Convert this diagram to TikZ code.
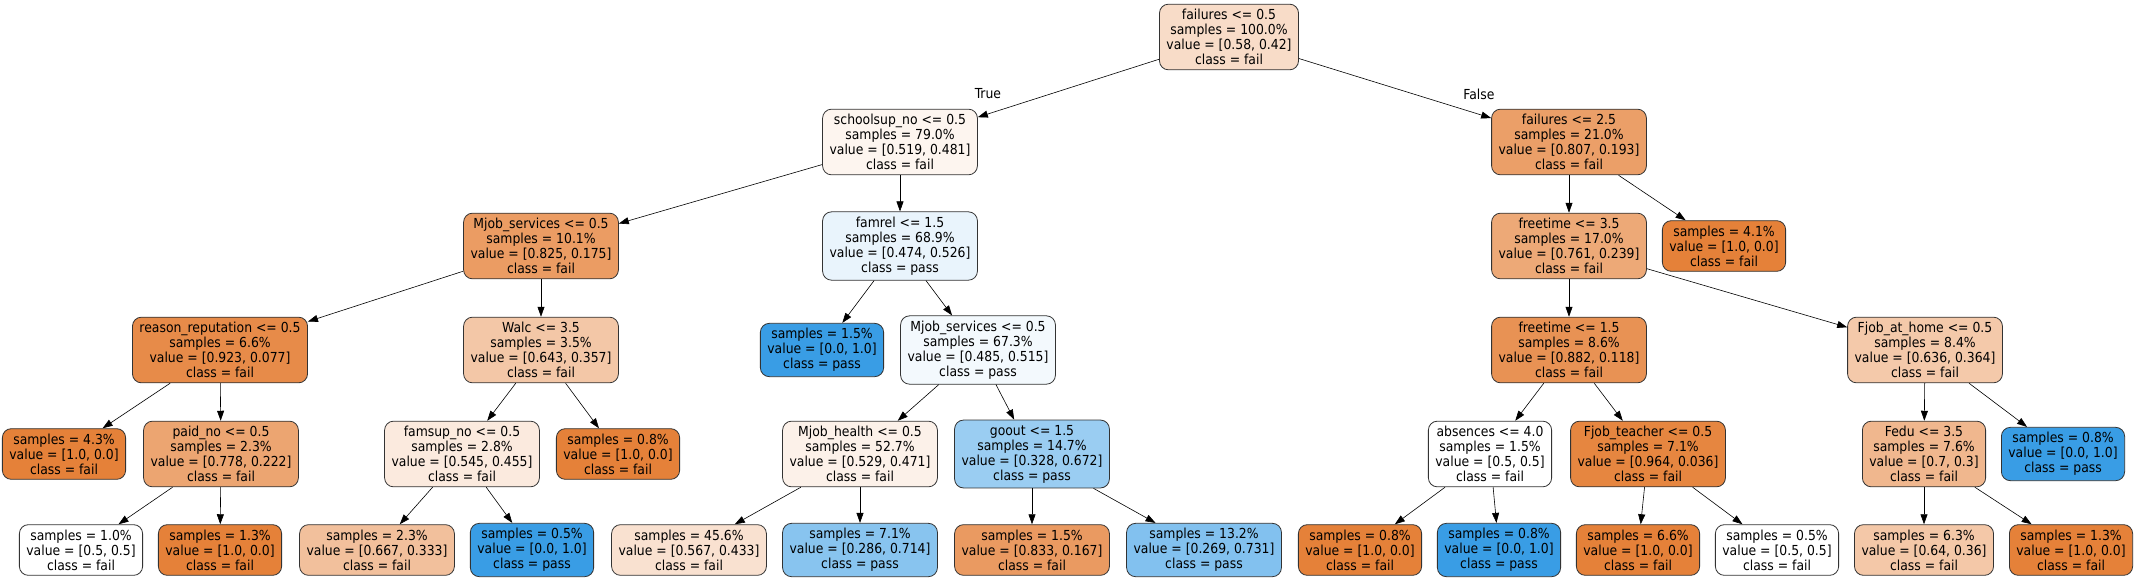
\documentclass[tikz,border=0pt]{standalone}
\usepackage{fontspec}
\setmainfont{DejaVu Sans Condensed}
\usetikzlibrary{arrows.meta}

\definecolor{failc}{RGB}{229,129,57}
\definecolor{passc}{RGB}{57,157,229}

\begin{document}
\begin{tikzpicture}[x=1pt,y=-1pt,
    tree/.style={draw=black!80,line width=0.8pt,rounded corners=9pt,align=center,
      font=\fontsize{13.8}{15}\selectfont,inner xsep=7pt,inner ysep=5pt},
    fail/.style={tree,fill=failc!#1!white},
    pass/.style={tree,fill=passc!#1!white},
    lbl/.style={font=\fontsize{13.8}{15}\selectfont}]
  \useasboundingbox (0,0) rectangle (2136,581);

  % split nodes
  \node[fail=27.6] (root)    at (1229,37)  {failures <= 0.5\\samples = 100.0\%\\value = [0.58, 0.42]\\class = fail};
  \node[fail=7.9]  (schsup)  at (900,142)  {schoolsup\_no <= 0.5\\samples = 79.0\%\\value = [0.519, 0.481]\\class = fail};
  \node[fail=76.1] (failtwo) at (1569,142) {failures <= 2.5\\samples = 21.0\%\\value = [0.807, 0.193]\\class = fail};
  \node[fail=78.8] (mjsA)    at (541,246)  {Mjob\_services <= 0.5\\samples = 10.1\%\\value = [0.825, 0.175]\\class = fail};
  \node[pass=11]   (famrel)  at (900,246)  {famrel <= 1.5\\samples = 68.9\%\\value = [0.474, 0.526]\\class = pass};
  \node[fail=68.6] (freeA)   at (1569,246) {freetime <= 3.5\\samples = 17.0\%\\value = [0.761, 0.239]\\class = fail};
  \node[fail=91.7] (reason)  at (220,350)  {reason\_reputation <= 0.5\\samples = 6.6\%\\value = [0.923, 0.077]\\class = fail};
  \node[fail=44.5] (walc)    at (541,350)  {Walc <= 3.5\\samples = 3.5\%\\value = [0.643, 0.357]\\class = fail};
  \node[pass=6.2]  (mjsB)    at (978,350)  {Mjob\_services <= 0.5\\samples = 67.3\%\\value = [0.485, 0.515]\\class = pass};
  \node[fail=86.6] (freeB)   at (1569,350) {freetime <= 1.5\\samples = 8.6\%\\value = [0.882, 0.118]\\class = fail};
  \node[fail=42.8] (fjhome)  at (1925,350) {Fjob\_at\_home <= 0.5\\samples = 8.4\%\\value = [0.636, 0.364]\\class = fail};
  \node[fail=71.5] (paid)    at (221,454)  {paid\_no <= 0.5\\samples = 2.3\%\\value = [0.778, 0.222]\\class = fail};
  \node[fail=16.5] (famsup)  at (462,454)  {famsup\_no <= 0.5\\samples = 2.8\%\\value = [0.545, 0.455]\\class = fail};
  \node[fail=11]   (mjhealth) at (860,454) {Mjob\_health <= 0.5\\samples = 52.7\%\\value = [0.529, 0.471]\\class = fail};
  \node[pass=51.2] (goout)   at (1032,454) {goout <= 1.5\\samples = 14.7\%\\value = [0.328, 0.672]\\class = pass};
  \node[fail=0]    (absenc)  at (1490,454) {absences <= 4.0\\samples = 1.5\%\\value = [0.5, 0.5]\\class = fail};
  \node[fail=96.3] (fjteach) at (1648,454) {Fjob\_teacher <= 0.5\\samples = 7.1\%\\value = [0.964, 0.036]\\class = fail};
  \node[fail=57.1] (fedu)    at (1924,454) {Fedu <= 3.5\\samples = 7.6\%\\value = [0.7, 0.3]\\class = fail};

  % leaves
  \node[fail=100]  (lfA) at (1724,246) {samples = 4.1\%\\value = [1.0, 0.0]\\class = fail};
  \node[pass=100]  (lfB) at (822,350)  {samples = 1.5\%\\value = [0.0, 1.0]\\class = pass};
  \node[fail=100]  (lfC) at (64,454)   {samples = 4.3\%\\value = [1.0, 0.0]\\class = fail};
  \node[fail=100]  (lfD) at (618,454)  {samples = 0.8\%\\value = [1.0, 0.0]\\class = fail};
  \node[pass=100]  (lfE) at (2063,454) {samples = 0.8\%\\value = [0.0, 1.0]\\class = pass};
  \node[fail=0]    (lfF) at (81,550)   {samples = 1.0\%\\value = [0.5, 0.5]\\class = fail};
  \node[fail=100]  (lfG) at (220,550)  {samples = 1.3\%\\value = [1.0, 0.0]\\class = fail};
  \node[fail=50]   (lfH) at (377,550)  {samples = 2.3\%\\value = [0.667, 0.333]\\class = fail};
  \node[pass=100]  (lfI) at (532,550)  {samples = 0.5\%\\value = [0.0, 1.0]\\class = pass};
  \node[fail=23.6] (lfJ) at (689,550)  {samples = 45.6\%\\value = [0.567, 0.433]\\class = fail};
  \node[pass=60]   (lfK) at (860,550)  {samples = 7.1\%\\value = [0.286, 0.714]\\class = pass};
  \node[fail=80]   (lfL) at (1032,550) {samples = 1.5\%\\value = [0.833, 0.167]\\class = fail};
  \node[pass=63.2] (lfM) at (1204,550) {samples = 13.2\%\\value = [0.269, 0.731]\\class = pass};
  \node[fail=100]  (lfN) at (1360,550) {samples = 0.8\%\\value = [1.0, 0.0]\\class = fail};
  \node[pass=100]  (lfO) at (1499,550) {samples = 0.8\%\\value = [0.0, 1.0]\\class = pass};
  \node[fail=100]  (lfP) at (1638,550) {samples = 6.6\%\\value = [1.0, 0.0]\\class = fail};
  \node[fail=0]    (lfQ) at (1777,550) {samples = 0.5\%\\value = [0.5, 0.5]\\class = fail};
  \node[fail=43.8] (lfR) at (1924,550) {samples = 6.3\%\\value = [0.64, 0.36]\\class = fail};
  \node[fail=100]  (lfS) at (2071,550) {samples = 1.3\%\\value = [1.0, 0.0]\\class = fail};

  \node[lbl] (truelbl)  at (988,94)  {True};
  \node[lbl] (falselbl) at (1479,94) {False};

  \path[-{Triangle[length=10pt,width=7pt]},line width=0.6pt]
    (root) edge (schsup)
           edge (failtwo)
    (schsup) edge (mjsA)
             edge (famrel)
    (mjsA) edge (reason)
           edge (walc)
    (reason) edge (lfC)
             edge (paid)
    (paid) edge (lfF)
           edge (lfG)
    (walc) edge (famsup)
           edge (lfD)
    (famsup) edge (lfH)
             edge (lfI)
    (famrel) edge (lfB)
             edge (mjsB)
    (mjsB) edge (mjhealth)
           edge (goout)
    (mjhealth) edge (lfJ)
               edge (lfK)
    (goout) edge (lfL)
            edge (lfM)
    (failtwo) edge (freeA)
              edge (lfA)
    (freeA) edge (freeB)
            edge (fjhome)
    (freeB) edge (absenc)
            edge (fjteach)
    (absenc) edge (lfN)
             edge (lfO)
    (fjteach) edge (lfP)
              edge (lfQ)
    (fjhome) edge (fedu)
             edge (lfE)
    (fedu) edge (lfR)
           edge (lfS);
\end{tikzpicture}
\end{document}
